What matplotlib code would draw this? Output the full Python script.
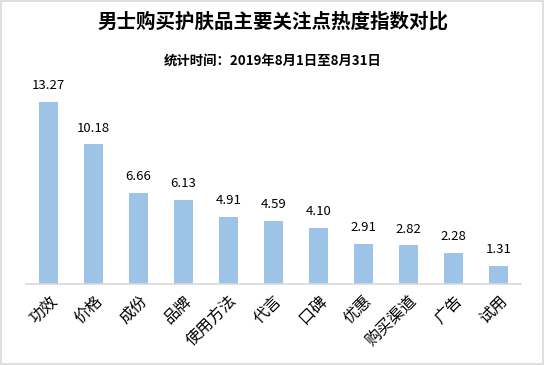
import matplotlib
matplotlib.use("Agg")
import matplotlib.pyplot as plt
from matplotlib.patches import Rectangle

plt.rcParams['font.family'] = ['Noto Sans CJK SC', 'DejaVu Sans']

categories = ["功效", "价格", "成份", "品牌", "使用方法", "代言", "口碑", "优惠", "购买渠道", "广告", "试用"]
values = [13.27, 10.18, 6.66, 6.13, 4.91, 4.59, 4.10, 2.91, 2.82, 2.28, 1.31]

title = "男士购买护肤品主要关注点热度指数对比"
subtitle = "统计时间：2019年8月1日至8月31日"

fig = plt.figure(figsize=(5.45, 3.65), dpi=100)
fig.patches.append(Rectangle((0.002, 0.003), 0.995, 0.994, transform=fig.transFigure,
                             fill=False, edgecolor="#D9D9D9", linewidth=1.2))

ax = fig.add_axes([0.048, 0.222, 0.908, 0.56])
x = range(len(categories))
bars = ax.bar(x, values, width=0.42, color="#9DC3E6")
ax.set_xlim(-0.5, len(categories) - 0.5)
ax.set_ylim(0, 14.9)

for xi, v in zip(x, values):
    ax.text(xi, v + 0.7, f"{v:.2f}", ha="center", va="bottom", fontsize=9.5, clip_on=False)

for s in ["top", "right", "left"]:
    ax.spines[s].set_visible(False)
ax.spines["bottom"].set_color("#D9D9D9")
ax.spines["bottom"].set_linewidth(1.2)
ax.set_yticks([])
ax.set_xticks(list(x))
ax.set_xticklabels(categories, rotation=45, ha="right", va="top", fontsize=11.5,
                   rotation_mode="anchor")
ax.tick_params(axis="x", length=0, pad=6)

fig.text(0.5, 0.94, title, ha="center", va="center", fontsize=14, fontweight="bold")
fig.text(0.5, 0.833, subtitle, ha="center", va="center", fontsize=9.6, fontweight="bold")

fig.savefig("out.png", dpi=100, facecolor="white")
